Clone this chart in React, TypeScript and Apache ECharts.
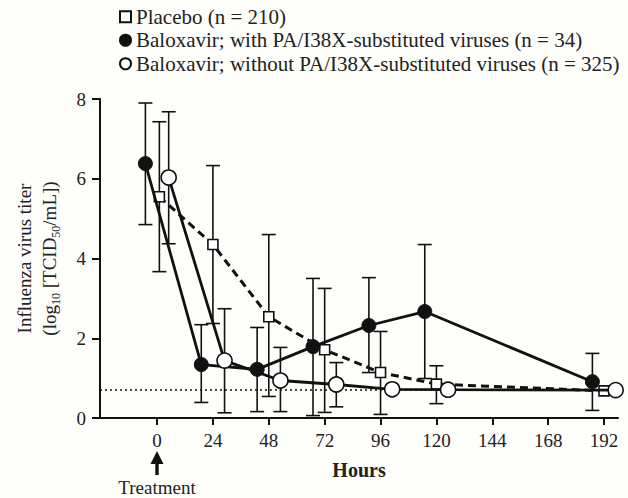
import React, { useEffect, useRef } from 'react';
import * as echarts from 'echarts';

// ---- data ----
const tickHours = [0, 24, 48, 72, 96, 120, 144, 168, 192];

const placeboName = 'Placebo (n = 210)';
const withName = 'Baloxavir; with PA/I38X-substituted viruses (n = 34)';
const withoutName = 'Baloxavir; without PA/I38X-substituted viruses (n = 325)';

// plotted (slightly offset) sampling hours
const placeboHours = [1, 24, 48, 72, 96, 120, 192];
const withHours = [-5, 19, 43, 67, 91, 115, 187];
const withoutHours = [5, 29, 53, 77, 101, 125, 197];

const placeboMean = [5.55, 4.35, 2.54, 1.71, 1.14, 0.85, 0.68];
const placeboLow = [3.67, 2.37, 0.54, 0.14, 0.09, 0.36, null];
const placeboHigh = [7.43, 6.33, 4.6, 3.25, 2.17, 1.31, null];

const withMean = [6.38, 1.34, 1.22, 1.79, 2.32, 2.67, 0.91];
const withLow = [4.85, 0.39, 0.16, 0.06, 1.14, 0.99, 0.19];
const withHigh = [7.9, 2.34, 2.27, 3.5, 3.52, 4.35, 1.62];

const withoutMean = [6.03, 1.44, 0.94, 0.84, 0.72, 0.71, 0.7];
const withoutLow = [4.37, 0.13, 0.16, 0.28, null, null, null];
const withoutHigh = [7.68, 2.74, 1.77, 1.39, null, null, null];

const lloq = 0.7;

const FONT = "'Liberation Serif', 'Times New Roman', serif";
const INK = '#111';
const TXT = '#222';

function pairs(xs: number[], ys: number[]) {
  return xs.map((x, i) => [x, ys[i]]);
}

function bars(xs: number[], lo: (number | null)[], hi: (number | null)[]) {
  const out: number[][] = [];
  xs.forEach((x, i) => {
    if (lo[i] != null && hi[i] != null) out.push([x, lo[i] as number, hi[i] as number]);
  });
  return out;
}

export default function App() {
  const ref = useRef<HTMLDivElement>(null);

  useEffect(() => {
    document.body.style.margin = '0';
    const chart = echarts.init(ref.current!, null, { renderer: 'svg' });

    const errData = [
      ...bars(placeboHours, placeboLow, placeboHigh),
      ...bars(withHours, withLow, withHigh),
      ...bars(withoutHours, withoutLow, withoutHigh),
    ];

    const option: any = {
      animation: false,
      backgroundColor: '#fefefb',
      textStyle: { fontFamily: FONT, color: TXT },
      legend: {
        orient: 'vertical',
        left: 119,
        top: 6,
        padding: 0,
        itemGap: 2,
        itemWidth: 11,
        itemHeight: 11,
        selectedMode: false,
        textStyle: { fontFamily: FONT, fontSize: 21, color: TXT, lineHeight: 21.5 },
        data: [
          { name: placeboName, icon: 'rect' },
          { name: withName, icon: 'circle' },
          { name: withoutName, icon: 'circle' },
        ],
      },
      grid: { left: 100, right: 10, top: 99, bottom: 80, containLabel: false },
      xAxis: {
        type: 'value',
        min: -24.5,
        max: 198,
        name: 'Hours',
        nameLocation: 'middle',
        nameGap: 42,
        nameTextStyle: { fontFamily: FONT, fontSize: 20, fontWeight: 'bold', color: TXT },
        splitLine: { show: false },
        axisLine: { onZero: false, lineStyle: { color: INK, width: 2 } },
        axisTick: { show: true, length: 7, lineStyle: { color: INK, width: 2 }, customValues: tickHours },
        axisLabel: { fontFamily: FONT, fontSize: 19, color: TXT, margin: 13, customValues: tickHours },
      },
      yAxis: {
        type: 'value',
        min: 0,
        max: 8,
        interval: 2,
        name: '{a|Influenza virus titer}\n{a|(log}{s|10}{a| [TCID}{s|50}{a|/mL])}',
        nameLocation: 'middle',
        nameRotate: 90,
        nameGap: 38,
        nameTextStyle: {
          rich: {
            a: { fontFamily: FONT, fontSize: 19, color: TXT, lineHeight: 25 },
            s: { fontFamily: FONT, fontSize: 12, color: TXT, lineHeight: 25, verticalAlign: 'bottom' },
          },
        },
        splitLine: { show: false },
        axisLine: { show: true, onZero: false, lineStyle: { color: INK, width: 2 } },
        axisTick: { show: true, length: 8, lineStyle: { color: INK, width: 2 } },
        axisLabel: { fontFamily: FONT, fontSize: 19, color: TXT, margin: 14 },
      },
      series: [
        {
          type: 'custom',
          name: 'errorbars',
          z: 1,
          silent: true,
          clip: false,
          data: errData,
          encode: { x: 0, y: [1, 2] },
          renderItem: (params: any, api: any) => {
            const x = api.value(0);
            const top = api.coord([x, api.value(2)]);
            const bot = api.coord([x, api.value(1)]);
            const hw = 7;
            const style = { stroke: INK, lineWidth: 1.6, fill: 'none' };
            return {
              type: 'group',
              children: [
                { type: 'line', shape: { x1: top[0], y1: top[1], x2: bot[0], y2: bot[1] }, style },
                { type: 'line', shape: { x1: top[0] - hw, y1: top[1], x2: top[0] + hw, y2: top[1] }, style },
                { type: 'line', shape: { x1: bot[0] - hw, y1: bot[1], x2: bot[0] + hw, y2: bot[1] }, style },
              ],
            };
          },
        },
        {
          type: 'line',
          name: placeboName,
          z: 3,
          data: pairs(placeboHours, placeboMean),
          symbol: 'rect',
          symbolSize: 10,
          lineStyle: { color: INK, width: 3, type: [8, 5] },
          itemStyle: { color: '#fff', borderColor: INK, borderWidth: 1.6 },
          markLine: {
            silent: true,
            symbol: 'none',
            label: { show: false },
            lineStyle: { color: INK, width: 1.5, type: [2, 3] },
            data: [{ yAxis: lloq }],
          },
        },
        {
          type: 'line',
          name: withName,
          z: 4,
          data: pairs(withHours, withMean),
          symbol: 'circle',
          symbolSize: 14,
          lineStyle: { color: INK, width: 2.8 },
          itemStyle: { color: INK, borderColor: INK, borderWidth: 1 },
        },
        {
          type: 'line',
          name: withoutName,
          z: 5,
          data: pairs(withoutHours, withoutMean),
          symbol: 'circle',
          symbolSize: 15,
          lineStyle: { color: INK, width: 2.8 },
          itemStyle: { color: '#fff', borderColor: INK, borderWidth: 1.6 },
        },
      ],
      graphic: [
        { type: 'polygon', shape: { points: [[157, 451], [150.5, 464], [163.5, 464]] }, style: { fill: INK } },
        { type: 'rect', shape: { x: 155.3, y: 462, width: 3.4, height: 13 }, style: { fill: INK } },
        {
          type: 'text',
          x: 157,
          y: 487,
          style: { text: 'Treatment', fontFamily: FONT, fontSize: 19, fill: TXT, align: 'center', verticalAlign: 'middle' },
        },
      ],
    };

    chart.setOption(option);
    return () => chart.dispose();
  }, []);

  return <div ref={ref} style={{ width: 628, height: 498 }} />;
}
